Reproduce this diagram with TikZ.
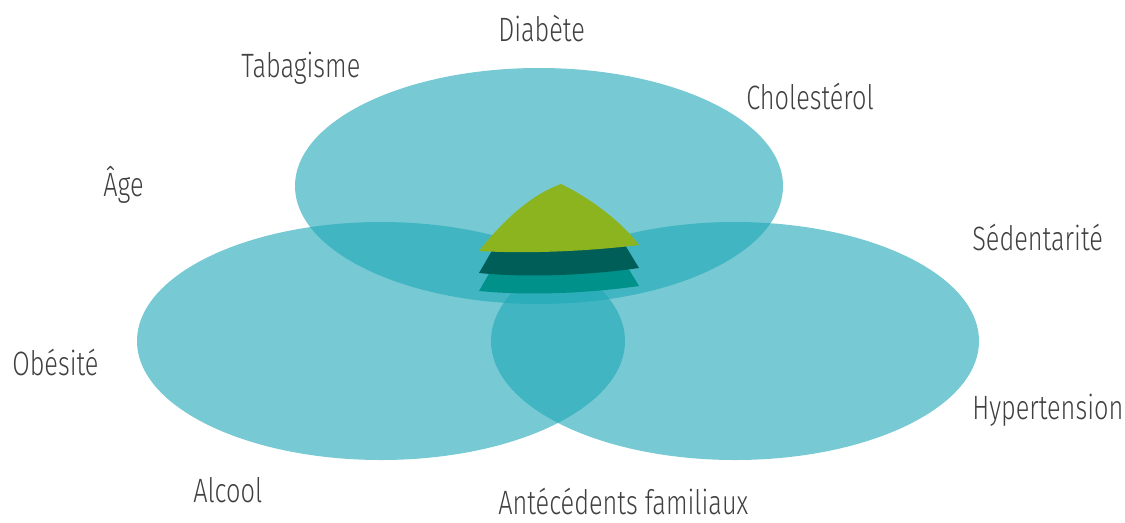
\documentclass[tikz,border=0pt]{standalone}
\usepackage{fontspec}
\setmainfont{Fira Sans}[UprightFont={* Light},FakeStretch=0.75]
\begin{document}
\begin{tikzpicture}[x=0.025cm,y=-0.025cm]
\definecolor{ellc}{RGB}{29,167,181}
\definecolor{txtc}{RGB}{64,64,64}
\definecolor{greenc}{RGB}{140,180,30}
\definecolor{darkc}{RGB}{0,94,88}
\definecolor{tealc}{RGB}{0,145,138}
\tikzset{
  blob/.style={fill=ellc,fill opacity=0.6,draw=none},
  lbl/.style={anchor=base west,inner sep=0pt,text=txtc,font=\fontsize{24}{28}\selectfont}
}
\useasboundingbox (0,0) rectangle (1125,522);
\fill[blob] (539,186) ellipse [x radius=244,y radius=118];
\fill[blob] (381,341) ellipse [x radius=244,y radius=119];
\fill[blob] (735,341) ellipse [x radius=244,y radius=119];
% layered peak
\fill[tealc] (479,291) .. controls (530,296) and (590,293) .. (639,286) -- (622,258) -- (497,260) -- cycle;
\fill[darkc] (479,273) .. controls (530,278) and (590,275) .. (639,268) -- (622,240) -- (497,242) -- cycle;
\fill[greenc] (479,251) .. controls (505,218) and (533,194) .. (561,184) .. controls (590,198) and (622,222) .. (639,245) .. controls (590,251) and (530,254) .. (479,251) -- cycle;
% labels
\node[lbl] (diab) at (498,41) {Diabète};
\node[lbl] (taba) at (241,77) {Tabagisme};
\node[lbl] (chol) at (746,109) {Cholestérol};
\node[lbl] (age) at (103,196) {Âge};
\node[lbl] (sed) at (972,250) {Sédentarité};
\node[lbl] (obe) at (12,375) {Obésité};
\node[lbl] (hyp) at (972,419) {Hypertension};
\node[lbl] (alc) at (193,502) {Alcool};
\node[lbl] (ant) at (498,514) {Antécédents familiaux};
\end{tikzpicture}
\end{document}
